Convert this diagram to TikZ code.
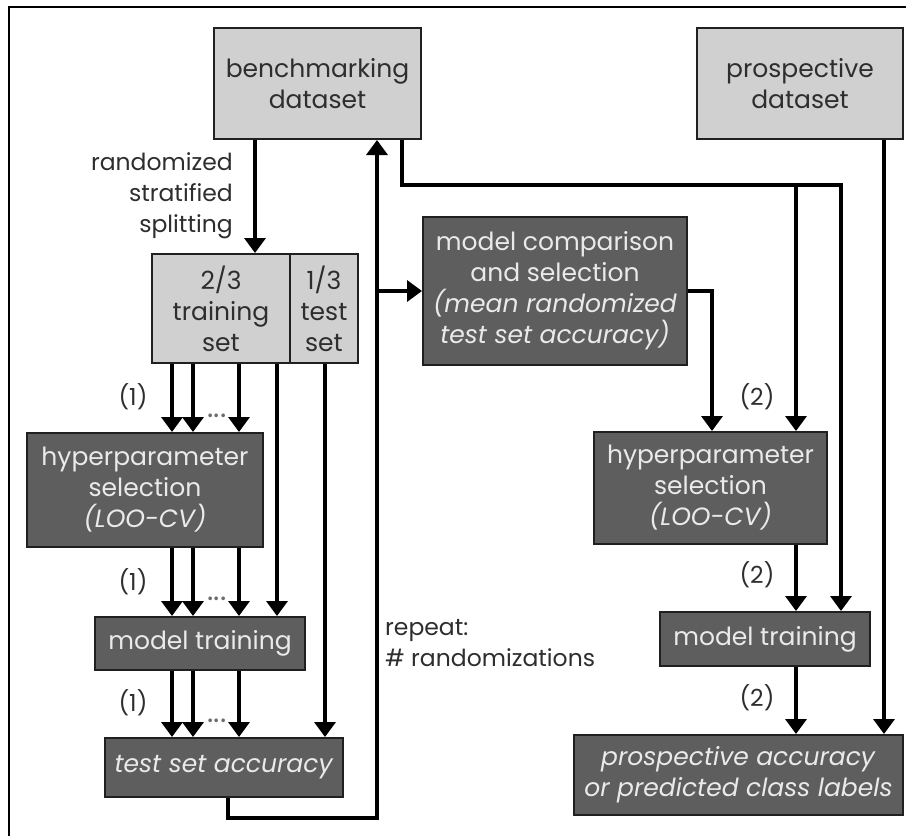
\documentclass[tikz,border=0pt]{standalone}
\usepackage{fontspec}
\setmainfont{Poppins}
\usetikzlibrary{arrows.meta}
\definecolor{lightfill}{HTML}{D0D0D0}
\definecolor{darkfill}{HTML}{5E5E5E}
\definecolor{edge}{HTML}{202020}
\definecolor{lighttext}{HTML}{EAEAEA}
\definecolor{darktext}{HTML}{2E2E2E}
\begin{document}
\begin{tikzpicture}[x=1pt,y=-1pt,
  box/.style={draw=edge, line width=2pt, rectangle, inner sep=0pt, align=center, font=\fontsize{25}{31}\selectfont},
  lbox/.style={box, fill=lightfill, text=darktext},
  dbox/.style={box, fill=darkfill, text=lighttext},
  arr/.style={draw=black, line width=3.5pt, -{Triangle[length=15pt,width=21pt]}},
  lab/.style={font=\fontsize{23.5}{31}\selectfont, text=darktext, inner sep=0pt},
  dotlab/.style={font=\fontsize{30}{30}\selectfont, text=darktext!70, inner sep=0pt},
]
\useasboundingbox (0,0) rectangle (906,836);
% frame
\draw[line width=1.5pt] (9,836) -- (9,7) -- (906,7);

% boxes
\node[lbox, minimum width=207pt, minimum height=111pt] (bench) at (317.5,83.5) {benchmarking\\dataset};
\node[lbox, minimum width=206pt, minimum height=111pt] (prosp) at (800,83.5) {prospective\\dataset};
\node[lbox, minimum width=138pt, minimum height=109pt] (train) at (221,308.5) {2/3\\training\\set};
\node[lbox, minimum width=68pt, minimum height=109pt] (test) at (324,308.5) {1/3\\test\\set};
\node[dbox, minimum width=264pt, minimum height=148pt] (comp) at (555,291) {model comparison\\and selection\\\textit{(mean randomized}\\\textit{test set accuracy)}};
\node[dbox, minimum width=236pt, minimum height=114pt] (hypL) at (145,490) {hyperparameter\\selection\\\textit{(LOO-CV)}};
\node[dbox, minimum width=210pt, minimum height=53pt] (trainL) at (200,643.5) {model training};
\node[dbox, minimum width=238pt, minimum height=59pt] (accL) at (224,767.5) {\textit{test set accuracy}};
\node[dbox, minimum width=233pt, minimum height=112pt] (hypR) at (710.5,488) {hyperparameter\\selection\\\textit{(LOO-CV)}};
\node[dbox, minimum width=210pt, minimum height=54pt] (trainR) at (765,639) {model training};
\node[dbox, minimum width=329pt, minimum height=80pt] (accR) at (738.5,775) {\textit{prospective accuracy}\\\textit{or predicted class labels}};

% labels
\node[lab, align=right, anchor=east] (splitlab) at (233,196) {randomized\\stratified\\splitting};
\node[lab, align=left, anchor=west] (repeatlab) at (385,643) {repeat:\\\# randomizations};
\node[lab] (l1a) at (133,397) {(1)};
\node[lab] (l1b) at (133,582) {(1)};
\node[lab] (l1c) at (133,703) {(1)};
\node[lab] (l2a) at (757,397) {(2)};
\node[lab] (l2b) at (757,575) {(2)};
\node[lab] (l2c) at (757,698) {(2)};
\node[dotlab] (d1) at (217,416) {...};
\node[dotlab] (d2) at (217,599) {...};
\node[dotlab] (d3) at (217,721) {...};

% columns
\coordinate (c0) at (255,0);
\coordinate (c1) at (172,0);
\coordinate (c2) at (193,0);
\coordinate (c3) at (239,0);
\coordinate (c4) at (277,0);
\coordinate (c5) at (325,0);
\coordinate (cL) at (228,0);
\coordinate (loopbot) at (377,818);
\coordinate (bturn) at (402,185);
\coordinate (r1) at (712,0);
\coordinate (r2) at (796,0);
\coordinate (r3) at (841,0);
\coordinate (r4) at (884,0);

% left chain
\draw[arr] (c0 |- bench.south) -- (c0 |- train.north);
\foreach \c in {c1,c2,c3}{
  \draw[arr] (\c |- train.south) -- (\c |- hypL.north);
  \draw[arr] (\c |- hypL.south) -- (\c |- trainL.north);
  \draw[arr] (\c |- trainL.south) -- (\c |- accL.north);
}
\draw[arr] (c4 |- train.south) -- (c4 |- trainL.north);
\draw[arr] (c5 |- test.south) -- (c5 |- accL.north);

% repeat loop
\draw[arr] (cL |- accL.south) |- (loopbot) -- (loopbot |- bench.south);
\draw[arr] (loopbot |- comp.west) -- (comp.west);

% right chain
\draw[arr] (comp.east) -| (r1 |- hypR.north);
\draw[arr] (bturn |- bench.south) -- (bturn) -| (r3 |- trainR.north);
\draw[arr] (r2 |- bturn) -- (r2 |- hypR.north);
\draw[arr] (r2 |- hypR.south) -- (r2 |- trainR.north);
\draw[arr] (r2 |- trainR.south) -- (r2 |- accR.north);
\draw[arr] (r4 |- prosp.south) -- (r4 |- accR.north);
\end{tikzpicture}
\end{document}
